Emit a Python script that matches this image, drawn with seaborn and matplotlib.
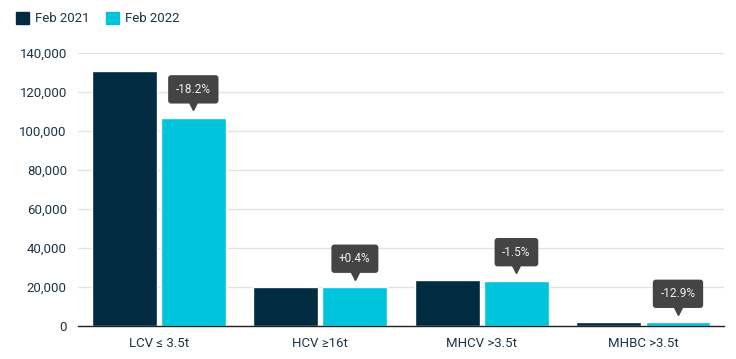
import pandas as pd
import matplotlib.pyplot as plt
import matplotlib.transforms as mtransforms
import seaborn as sns

categories = ['LCV ≤ 3.5t', 'HCV ≥16t', 'MHCV >3.5t', 'MHBC >3.5t']
feb_2021 = [130600, 19800, 23600, 2200]
feb_2022 = [106800, 19900, 23250, 1900]
changes = ['-18.2%', '+0.4%', '-1.5%', '-12.9%']
years = ['Feb 2021', 'Feb 2022']

df = pd.DataFrame({
    'category': categories * 2,
    'year': [years[0]] * 4 + [years[1]] * 4,
    'value': feb_2021 + feb_2022,
})

sns.set_style('white')
plt.rcParams['font.family'] = ['Roboto', 'DejaVu Sans']
txt = '#1d3447'

fig = plt.figure(figsize=(7.36, 3.59), dpi=100)
ax = fig.add_axes([0.106, 0.092, 0.878, 0.76])

sns.barplot(data=df, x='category', y='value', hue='year', order=categories,
            hue_order=years, palette=['#002b40', '#00c4dc'], width=0.855,
            gap=0.06, saturation=1, ax=ax, legend=False)

ax.set_ylim(0, 140000)
ax.set_xlim(-0.5, 3.5)
ax.set_yticks(range(0, 140001, 20000))
ax.set_yticklabels([f'{v:,}' for v in range(0, 140001, 20000)])
ax.yaxis.grid(True, color='#e3e3e3', lw=1)
ax.set_axisbelow(True)
for s in ['top', 'right', 'left']:
    ax.spines[s].set_visible(False)
ax.spines['bottom'].set_color('#222222')
ax.spines['bottom'].set_linewidth(1)
ax.tick_params(axis='both', length=0, labelsize=9.5, colors=txt, pad=8)
ax.set_xlabel('')
ax.set_ylabel('')

# change labels above the 2022 bars
box_tf = mtransforms.offset_copy(ax.transData, fig=fig, y=20.5, units='points')
tip_tf = mtransforms.offset_copy(ax.transData, fig=fig, y=9, units='points')
for bar, lab in zip(ax.containers[1], changes):
    cx = bar.get_x() + bar.get_width() / 2
    top = bar.get_height()
    ax.plot([cx], [top], marker='v', ms=7, color='#444444', transform=tip_tf,
            clip_on=False, zorder=5)
    ax.text(cx, top, lab, transform=box_tf, ha='center', va='center',
            color='#f2f2f2', fontsize=8.5, zorder=6,
            bbox=dict(boxstyle='round,pad=0.65,rounding_size=0.25',
                      fc='#444444', ec='none'))

handles = [plt.Rectangle((0, 0), 1, 1, color=c) for c in ['#002b40', '#00c4dc']]
fig.legend(handles, years, loc='upper left', bbox_to_anchor=(0.005, 1.0),
           ncol=2, frameon=False, handlelength=1, handleheight=1,
           handletextpad=0.5, columnspacing=1.2, fontsize=9.5,
           labelcolor=txt)

fig.savefig('out.png', dpi=100)
